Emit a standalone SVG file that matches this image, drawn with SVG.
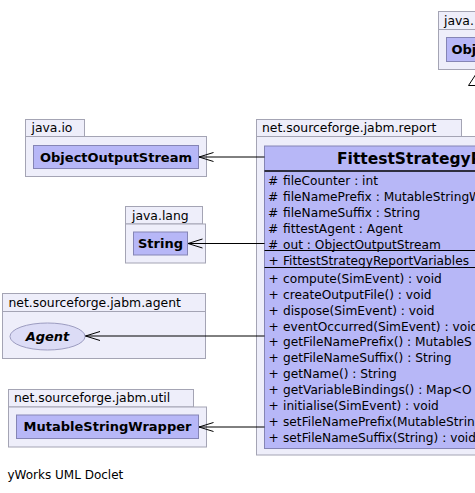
<svg xmlns="http://www.w3.org/2000/svg" width="475" height="493" viewBox="0 0 475 493">
<style>
  .pkg { fill: #eeeefa; stroke: #a4a4b4; stroke-width: 1; }
  .cls { fill: #b7b7f7; stroke: #8585b5; stroke-width: 1; }
  .ifc { fill: #dcdcf6; stroke: #9c9cc0; stroke-width: 1; }
  .ptxt { font-family: "DejaVu Sans", sans-serif; font-size: 12.4px; fill: #000; }
  .ftxt { font-family: "DejaVu Sans", sans-serif; font-size: 12px; fill: #000; }
  .ctxt { font-family: "DejaVu Sans", sans-serif; font-size: 13px; font-weight: bold; fill: #000; text-anchor: middle; }
  .vis { font-family: "DejaVu Sans", sans-serif; font-size: 12.2px; fill: #000; }
  .mtxt { font-family: "DejaVu Sans", sans-serif; font-size: 12.2px; fill: #000; }
  .title { font-family: "DejaVu Sans", sans-serif; font-size: 15.5px; font-weight: bold; fill: #000; }
  .sep { stroke: #000; stroke-width: 1; }
  .edge { stroke: #000; stroke-width: 1; fill: none; }
</style>
<defs>
  <marker id="open" markerUnits="userSpaceOnUse" markerWidth="18" markerHeight="12" viewBox="-16 -6 18 12" refX="0" refY="0" orient="auto">
    <path d="M -14.5 -4.5 L 0 0 L -14.5 4.5" fill="none" stroke="#000" stroke-width="1"/>
  </marker>
</defs>
<rect width="475" height="493" fill="#fff"/>

<g id="pkg-java-lang-top">
  <rect class="pkg" x="438.5" y="11.5" width="50" height="18"/>
  <rect class="pkg" x="438.5" y="29.5" width="50" height="40"/>
  <text class="ptxt" x="444" y="25">java.</text>
  <g id="node-Object">
    <rect class="cls" x="446.5" y="37.5" width="40" height="24"/>
    <text class="ctxt" x="451.5" y="54" style="text-anchor:start">Obj</text>
  </g>
</g>

<g id="pkg-java-io">
  <rect class="pkg" x="25.5" y="119.5" width="59" height="17"/>
  <rect class="pkg" x="25.5" y="136.5" width="181" height="40"/>
  <text class="ptxt" x="31.5" y="132">java.io</text>
  <g id="node-ObjectOutputStream">
    <rect class="cls" x="33.5" y="145.5" width="165" height="23"/>
    <text class="ctxt" x="116" y="161.5">ObjectOutputStream</text>
  </g>
</g>

<g id="pkg-java-lang">
  <rect class="pkg" x="125.5" y="206.5" width="77" height="17.5"/>
  <rect class="pkg" x="125.5" y="224" width="80" height="39"/>
  <text class="ptxt" x="132" y="219.5">java.lang</text>
  <g id="node-String">
    <rect class="cls" x="133.5" y="232" width="54" height="23"/>
    <text class="ctxt" x="160.5" y="248">String</text>
  </g>
</g>

<g id="pkg-agent">
  <rect class="pkg" x="2.5" y="293.5" width="203" height="18"/>
  <rect class="pkg" x="2.5" y="311.5" width="203" height="47"/>
  <text class="ptxt" x="8.5" y="306.5">net.sourceforge.jabm.agent</text>
  <g id="node-Agent">
    <ellipse class="ifc" cx="47.5" cy="336.5" rx="37.5" ry="13.5"/>
    <text class="ctxt" x="47.5" y="341" style="font-style:italic">Agent</text>
  </g>
</g>

<g id="pkg-util">
  <rect class="pkg" x="8.5" y="389.5" width="185" height="17.5"/>
  <rect class="pkg" x="8.5" y="407" width="198" height="40"/>
  <text class="ptxt" x="14" y="402">net.sourceforge.jabm.util</text>
  <g id="node-MutableStringWrapper">
    <rect class="cls" x="16.5" y="415" width="182" height="23.5"/>
    <text class="ctxt" x="107.5" y="431">MutableStringWrapper</text>
  </g>
</g>

<g id="pkg-report">
  <rect class="pkg" x="256.5" y="119.5" width="205" height="17"/>
  <rect class="pkg" x="256.5" y="136.5" width="230" height="318.5"/>
  <text class="ptxt" x="262" y="132">net.sourceforge.jabm.report</text>
  <g id="node-FittestStrategyReportVariables">
    <rect class="cls" x="264.5" y="146" width="230" height="302.5"/>
    <text class="title" x="337" y="164">FittestStrategyR</text>
    <line class="sep" x1="264.5" y1="171" x2="475" y2="171" style="stroke-width:1.5"/>
    <g class="vis">
      <text x="268" y="185">#</text>
      <text x="268" y="201">#</text>
      <text x="268" y="217">#</text>
      <text x="268" y="233">#</text>
      <text x="268" y="248.5">#</text>
      <text x="268.5" y="265">+</text>
      <text x="268.5" y="282.5">+</text>
      <text x="268.5" y="298.5">+</text>
      <text x="268.5" y="314.5">+</text>
      <text x="268.5" y="330.5">+</text>
      <text x="268.5" y="346">+</text>
      <text x="268.5" y="362">+</text>
      <text x="268.5" y="378">+</text>
      <text x="268.5" y="394">+</text>
      <text x="268.5" y="410">+</text>
      <text x="268.5" y="426">+</text>
      <text x="268.5" y="441.5">+</text>
    </g>
    <text class="mtxt" x="283" y="185">fileCounter : int</text>
    <text class="mtxt" x="283" y="201">fileNamePrefix : MutableStringW</text>
    <text class="mtxt" x="283" y="217">fileNameSuffix : String</text>
    <text class="mtxt" x="283" y="233">fittestAgent : Agent</text>
    <text class="mtxt" x="283" y="248.5">out : ObjectOutputStream</text>
    <line class="sep" x1="264.5" y1="250.5" x2="475" y2="250.5"/>
    <text class="mtxt" x="283" y="265">FittestStrategyReportVariables</text>
    <line class="sep" x1="264.5" y1="267.5" x2="475" y2="267.5"/>
    <text class="mtxt" x="283" y="282.5">compute(SimEvent) : void</text>
    <text class="mtxt" x="283" y="298.5">createOutputFile() : void</text>
    <text class="mtxt" x="283" y="314.5">dispose(SimEvent) : void</text>
    <text class="mtxt" x="283" y="330.5">eventOccurred(SimEvent) : void</text>
    <text class="mtxt" x="283" y="346">getFileNamePrefix() : MutableS</text>
    <text class="mtxt" x="283" y="362">getFileNameSuffix() : String</text>
    <text class="mtxt" x="283" y="378">getName() : String</text>
    <text class="mtxt" x="283" y="394">getVariableBindings() : Map&lt;O</text>
    <text class="mtxt" x="283" y="410">initialise(SimEvent) : void</text>
    <text class="mtxt" x="283" y="426">setFileNamePrefix(MutableStrin</text>
    <text class="mtxt" x="283" y="441.5">setFileNameSuffix(String) : void</text>
  </g>
</g>

<g id="connectors">
  <line class="edge" x1="264.5" y1="157" x2="199" y2="157" marker-end="url(#open)"/>
  <line class="edge" x1="264.5" y1="243.5" x2="188" y2="243.5" marker-end="url(#open)"/>
  <line class="edge" x1="264.5" y1="336" x2="85.5" y2="336" marker-end="url(#open)"/>
  <line class="edge" x1="264.5" y1="427" x2="199" y2="427" marker-end="url(#open)"/>
  <line class="edge" x1="476" y1="146" x2="476" y2="85.5"/>
  <polygon points="478,71 468.5,85.5 487.5,85.5" fill="#fff" stroke="#000" stroke-width="1"/>
</g>

<text class="ftxt" x="7.5" y="479">yWorks UML Doclet</text>
</svg>
